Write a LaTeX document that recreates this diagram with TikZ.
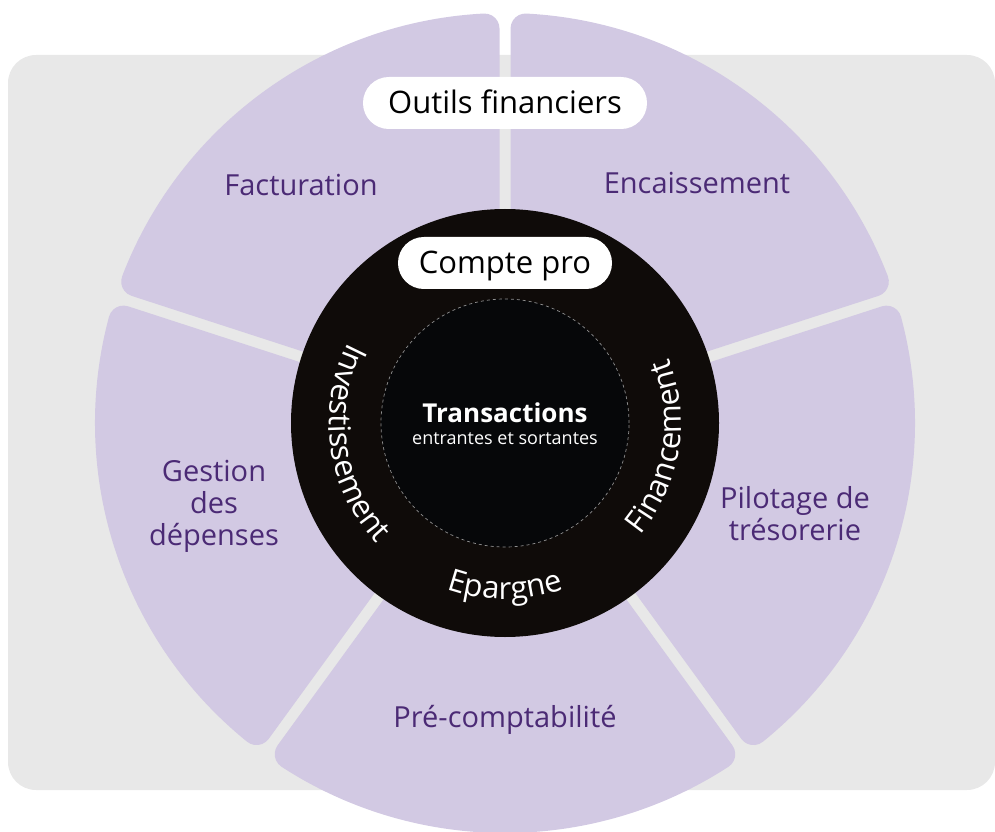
\documentclass[tikz,border=0pt]{standalone}
\usepackage{fontspec}
\setmainfont{Open Sans}
\usetikzlibrary{decorations.text}
\definecolor{bggray}{HTML}{E8E8E8}
\definecolor{lav}{HTML}{D2C9E3}
\definecolor{purp}{HTML}{4B2A75}
\definecolor{ringc}{HTML}{0F0B09}
\definecolor{corec}{HTML}{060709}
\definecolor{dashgray}{HTML}{8F8F8F}
\newcommand\labsize{\fontsize{29}{32}\selectfont}
\newcommand\pillsize{\fontsize{31}{34}\selectfont}
\newcommand\curvesize{\fontsize{31}{34}\selectfont}
\begin{document}
\begin{tikzpicture}[x=1pt,y=1pt,
  seglabel/.style={text=purp, font=\labsize, anchor=base, inner sep=0pt},
  pill/.style={fill=white, rounded corners=25.9pt, minimum height=52pt, inner sep=0pt,
    text=black, font=\pillsize, text height=22pt, text depth=0pt},
  curvetext/.style={decorate, decoration={text along path, text={|\curvesize|#1},
    text align=center, text color=white}},
  segshape/.style={fill=lav}
  ]
\useasboundingbox (0,0) rectangle (995,831);
\fill[bggray, rounded corners=28pt] (8,41) rectangle (995,776);
\coordinate (O) at (505,408);
\foreach \a in {54,-18,-90,-162,126} {
  \begin{scope}[shift={(O)}, rotate=\a]
   \fill[segshape] (124.586,-83.719) -- (322.367,-227.416)
     arc[start angle=-126, end angle=-33.025, radius=15]
     arc[start angle=-33.025, end angle=33.025, radius=410]
     arc[start angle=33.025, end angle=126, radius=15]
     -- (124.586,83.719) -- cycle;
  \end{scope}
}
% segment labels
\node[seglabel] (fac) at (301,635) {Facturation};
\node[seglabel] (enc) at (697,637) {Encaissement};
\node[seglabel] (ges1) at (214,350) {Gestion};
\node[seglabel] (ges2) at (214,318) {des};
\node[seglabel] (ges3) at (214,286) {dépenses};
\node[seglabel] (pil1) at (795,323) {Pilotage de};
\node[seglabel] (pil2) at (795,291) {trésorerie};
\node[seglabel] (pre) at (505,104) {Pré-comptabilité};
% central rings
\node[circle, fill=ringc, minimum size=428pt, inner sep=0pt] (ring) at (O) {};
\node[circle, fill=corec, draw=dashgray, dash pattern=on 3pt off 3pt, line width=0.7pt,
  minimum size=248pt, inner sep=0pt] (core) at (O) {};
\node[pill, minimum width=214pt] (cpro) at (505,568) {Compte pro};
\node[pill, minimum width=284pt] (outils) at (505,728) {Outils financiers};
% curved labels
\path[curvetext=Investissement] ([shift={(O)}]138:176) arc[start angle=138, end angle=238, radius=176];
\path[curvetext=Financement] ([shift={(O)}]-59:176) arc[start angle=-59, end angle=41, radius=176];
\path[curvetext=Epargne] ([shift={(O)}]-140:176) arc[start angle=-140, end angle=-40, radius=176];
% centre text
\node[text=white, font=\bfseries\fontsize{26}{28}\selectfont, anchor=base, inner sep=0pt] (trans) at (505,409) {Transactions};
\node[text=white, font=\fontsize{18}{20}\selectfont, anchor=base, inner sep=0pt] (entr) at (505,387) {entrantes et sortantes};
\end{tikzpicture}
\end{document}
